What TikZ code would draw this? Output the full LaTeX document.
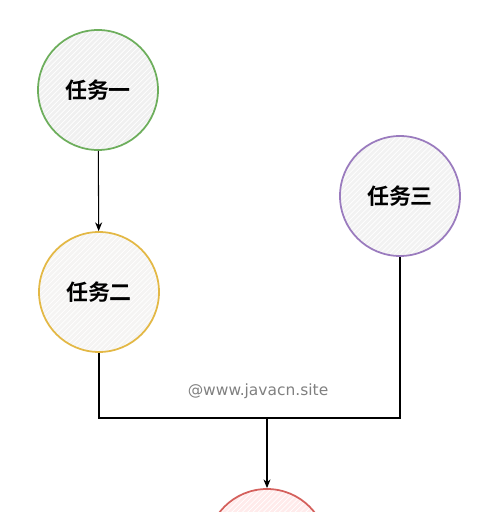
\documentclass[tikz,border=0pt]{standalone}
\usepackage{fontspec}
\newfontfamily\cjk{Noto Sans CJK SC}[BoldFont={Noto Sans CJK SC Bold}]
\usetikzlibrary{arrows.meta,patterns}
\definecolor{taskgreen}{HTML}{6DAE5C}
\definecolor{taskyellow}{HTML}{E3B845}
\definecolor{taskpurple}{HTML}{9A7BBE}
\definecolor{taskred}{HTML}{D4605C}
\tikzset{
  task/.style={circle,minimum size=2.4cm,line width=1pt,
    font=\cjk\bfseries\fontsize{12.5}{14}\selectfont,
    preaction={fill=#1},
    preaction={pattern=north east lines,pattern color=white}},
  link/.style={line width=0.6pt,black},
  linkarrow/.style={link,-{Stealth[length=5pt,width=4pt]}}
}
\begin{document}
\begin{tikzpicture}
  \useasboundingbox (0,0) rectangle (10,10.24);
  \clip (0,0) rectangle (10,10.24);
  % tasks
  \node[task=gray!12,draw=taskgreen] (t1) at (1.96,8.44) {任务一};
  \node[task=yellow!6!gray!10,draw=taskyellow] (t2) at (1.98,4.40) {任务二};
  \node[task=violet!5!gray!10,draw=taskpurple] (t3) at (8.00,6.32) {任务三};
  \node[task=red!8,draw=taskred] (t4) at (5.34,-0.74) {};
  \coordinate (join) at (5.34,1.88);
  % links
  \draw[linkarrow] (t1) -- (t2);
  \draw[link] (t2.south) |- (join) -| (t3.south);
  \draw[linkarrow] (join) -- (t4.north);
  \node[gray,font=\fontspec{DejaVu Sans}\fontsize{8.8}{11}\selectfont] (mark) at (5.16,2.42) {@www.javacn.site};
\end{tikzpicture}
\end{document}
